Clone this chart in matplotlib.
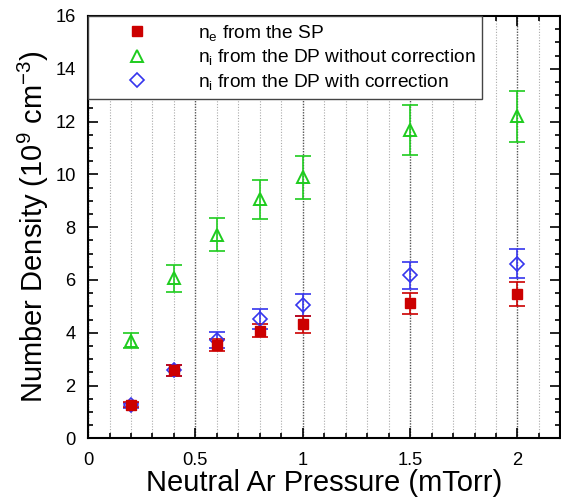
import matplotlib
matplotlib.use("Agg")
import matplotlib.pyplot as plt
from matplotlib.ticker import MultipleLocator, FuncFormatter
from matplotlib.lines import Line2D

plt.rcParams['font.family'] = ['Liberation Sans', 'DejaVu Sans']
plt.rcParams['mathtext.fontset'] = 'custom'
plt.rcParams['mathtext.rm'] = 'Liberation Sans'
plt.rcParams['mathtext.it'] = 'Liberation Sans'

pressure = [0.2, 0.4, 0.6, 0.8, 1.0, 1.5, 2.0]

ne_sp = [1.28, 2.58, 3.55, 4.08, 4.32, 5.11, 5.47]
ne_sp_err = [0.10, 0.20, 0.23, 0.25, 0.33, 0.41, 0.45]

ni_dp_nocorr = [3.70, 6.06, 7.71, 9.05, 9.89, 11.68, 12.19]
ni_dp_nocorr_err = [0.29, 0.50, 0.63, 0.74, 0.81, 0.93, 0.98]

ni_dp_corr = [1.25, 2.58, 3.71, 4.51, 5.05, 6.17, 6.62]
ni_dp_corr_err = [0.10, 0.20, 0.30, 0.38, 0.40, 0.52, 0.55]

labels = [r'$\mathregular{n_e}$ from the SP',
          r'$\mathregular{n_i}$ from the DP without correction',
          r'$\mathregular{n_i}$ from the DP with correction']
xlabel = 'Neutral Ar Pressure (mTorr)'
ylabel = r'Number Density (10$^\mathregular{9}$ cm$^\mathregular{-3}$)'

red = '#cc0000'
green = '#1ecc1e'
blue = '#3535ee'

fig = plt.figure(figsize=(5.61, 4.97), dpi=100)
ax = fig.add_axes([0.157, 0.118, 0.842, 0.850])

ax.set_xlim(0, 2.2)
ax.set_ylim(0, 16)

ekw = dict(fmt='none', capsize=5.5, elinewidth=1.2, capthick=1.2, zorder=3)
ax.errorbar(pressure, ni_dp_nocorr, yerr=ni_dp_nocorr_err, ecolor=green, **ekw)
ax.errorbar(pressure, ni_dp_corr, yerr=ni_dp_corr_err, ecolor=blue, **ekw)
ax.errorbar(pressure, ne_sp, yerr=ne_sp_err, ecolor=red, **ekw)

ax.plot(pressure, ni_dp_nocorr, linestyle='none', marker='^', markersize=8,
        markerfacecolor='none', markeredgecolor=green, markeredgewidth=1.4, zorder=4)
ax.plot(pressure, ni_dp_corr, linestyle='none', marker='D', markersize=7,
        markerfacecolor='none', markeredgecolor=blue, markeredgewidth=1.2, zorder=4)
ax.plot(pressure, ne_sp, linestyle='none', marker='s', markersize=6.5,
        markerfacecolor=red, markeredgecolor=red, zorder=5)

handles = [
    Line2D([], [], linestyle='none', marker='s', markersize=6.5, markerfacecolor=red, markeredgecolor=red),
    Line2D([], [], linestyle='none', marker='^', markersize=8, markerfacecolor='none',
           markeredgecolor=green, markeredgewidth=1.4),
    Line2D([], [], linestyle='none', marker='D', markersize=7, markerfacecolor='none',
           markeredgecolor=blue, markeredgewidth=1.2),
]
leg = ax.legend(handles, labels, loc='upper left', bbox_to_anchor=(0, 1),
                borderaxespad=0, fancybox=False, framealpha=1, edgecolor='#444444',
                fontsize=13.8, handlelength=4.45, handletextpad=0.92, borderpad=0.35,
                labelspacing=0.25)
leg.get_frame().set_linewidth(1.0)

ax.xaxis.set_major_locator(MultipleLocator(0.5))
ax.xaxis.set_minor_locator(MultipleLocator(0.1))
ax.yaxis.set_major_locator(MultipleLocator(2))
ax.yaxis.set_minor_locator(MultipleLocator(0.5))
ax.xaxis.set_major_formatter(FuncFormatter(lambda v, p: '%g' % v))
ax.yaxis.set_major_formatter(FuncFormatter(lambda v, p: '%g' % v))

ax.grid(True, which='minor', axis='x', linestyle=(0, (1, 1.5)), color='#aaaaaa', linewidth=0.8)
ax.grid(True, which='major', axis='x', linestyle=(0, (1, 1)), color='#555555', linewidth=1.0)
ax.set_axisbelow(True)

ax.tick_params(which='both', direction='in', top=True, right=True, labelsize=13.2, width=1.2)
ax.tick_params(which='major', length=7)
ax.tick_params(which='minor', length=3.5)
ax.tick_params(axis='x', pad=10)
ax.tick_params(axis='y', pad=9)
for s in ax.spines.values():
    s.set_linewidth(1.5)

ax.set_xlabel(xlabel, fontsize=21, labelpad=0)
ax.set_ylabel(ylabel, fontsize=21, labelpad=3)

fig.savefig('out.png', dpi=100)
